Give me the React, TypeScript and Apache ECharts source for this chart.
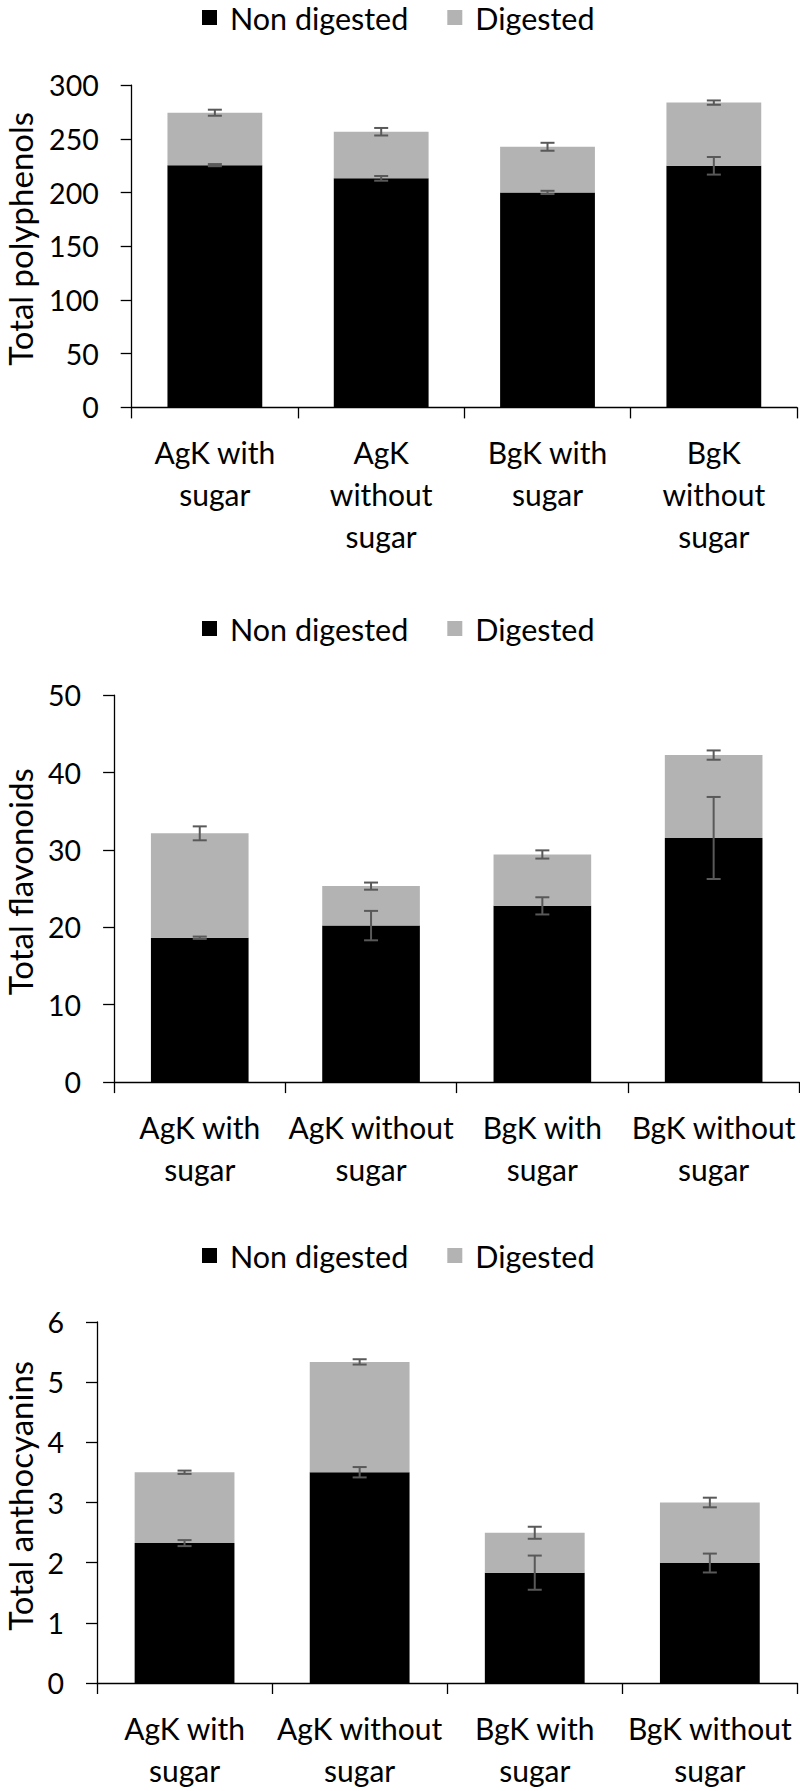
import React, { useEffect, useRef } from "react";
import * as echarts from "echarts";

// ---------- DATA ----------
const seriesNames = ["Non digested", "Digested"];

const categoriesPoly = ["AgK with\nsugar", "AgK\nwithout\nsugar", "BgK with\nsugar", "BgK\nwithout\nsugar"];
const categoriesFlav = ["AgK with\nsugar", "AgK without\nsugar", "BgK with\nsugar", "BgK without\nsugar"];
const categoriesAntho = ["AgK with\nsugar", "AgK without\nsugar", "BgK with\nsugar", "BgK without\nsugar"];

// Total polyphenols
const polyNonDigested = [225.5, 213.2, 200.1, 224.9];
const polyDigested = [48.8, 43.4, 42.5, 58.8];
const polyNonDigestedErr = [1.0, 2.2, 1.5, 8.2];
const polyTotalErr = [2.8, 3.5, 3.7, 2.0];

// Total flavonoids
const flavNonDigested = [18.65, 20.22, 22.77, 31.54];
const flavDigested = [13.49, 5.1, 6.64, 10.71];
const flavNonDigestedErr = [0.15, 1.9, 1.11, 5.3];
const flavTotalErr = [0.9, 0.46, 0.53, 0.6];

// Total anthocyanins
const anthoNonDigested = [2.325, 3.503, 1.834, 1.994];
const anthoDigested = [1.178, 1.834, 0.663, 1.006];
const anthoNonDigestedErr = [0.05, 0.086, 0.284, 0.157];
const anthoTotalErr = [0.027, 0.044, 0.1, 0.08];

// y axis scales
const polyAxis = { max: 300, interval: 50 };
const flavAxis = { max: 50, interval: 10 };
const anthoAxis = { max: 6, interval: 1 };

// ---------- STYLE ----------
const FONT = "Lato";
const BLACK = "#000000";
const GREY = "#B3B3B3";
const ERR = "#595959";

type Panel = {
  title: string;
  categories: string[];
  nd: number[];
  dig: number[];
  ndErr: number[];
  totErr: number[];
  axis: { max: number; interval: number };
  grid: { left: number; top: number; width: number; height: number };
  legendTop: number;
  titleY: number;
};

const panels: Panel[] = [
  {
    title: "Total polyphenols",
    categories: categoriesPoly,
    nd: polyNonDigested,
    dig: polyDigested,
    ndErr: polyNonDigestedErr,
    totErr: polyTotalErr,
    axis: polyAxis,
    grid: { left: 131.7, top: 85.1, width: 665.3, height: 322.3 },
    legendTop: 2,
    titleY: 238.8,
  },
  {
    title: "Total flavonoids",
    categories: categoriesFlav,
    nd: flavNonDigested,
    dig: flavDigested,
    ndErr: flavNonDigestedErr,
    totErr: flavTotalErr,
    axis: flavAxis,
    grid: { left: 114.1, top: 695.1, width: 685.2, height: 387 },
    legendTop: 613,
    titleY: 881.7,
  },
  {
    title: "Total anthocyanins",
    categories: categoriesAntho,
    nd: anthoNonDigested,
    dig: anthoDigested,
    ndErr: anthoNonDigestedErr,
    totErr: anthoTotalErr,
    axis: anthoAxis,
    grid: { left: 97, top: 1322, width: 700.4, height: 363.5 },
    legendTop: 1240,
    titleY: 1495.8,
  },
];

function errRender(params: any, api: any) {
  const x = api.value(0);
  const y = api.value(1);
  const e = api.value(2);
  const top = api.coord([x, y + e]);
  const bot = api.coord([x, y - e]);
  const hw = 7;
  const style = { stroke: ERR, lineWidth: 2 };
  return {
    type: "group",
    children: [
      { type: "line", shape: { x1: top[0], y1: top[1], x2: bot[0], y2: bot[1] }, style },
      { type: "line", shape: { x1: top[0] - hw, y1: top[1], x2: top[0] + hw, y2: top[1] }, style },
      { type: "line", shape: { x1: bot[0] - hw, y1: bot[1], x2: bot[0] + hw, y2: bot[1] }, style },
    ],
  };
}

function buildOption() {
  const grids: any[] = [];
  const xAxes: any[] = [];
  const yAxes: any[] = [];
  const legends: any[] = [];
  const series: any[] = [];
  const graphics: any[] = [];

  panels.forEach((p, i) => {
    grids.push({ ...p.grid, containLabel: false });
    xAxes.push({
      type: "category",
      gridIndex: i,
      data: p.categories,
      boundaryGap: true,
      axisLine: { show: true, lineStyle: { color: BLACK, width: 1.3 } },
      axisTick: { show: true, length: 11, lineStyle: { color: BLACK, width: 1.3 } },
      axisLabel: {
        interval: 0,
        margin: 24,
        fontFamily: FONT,
        fontSize: 30,
        lineHeight: 42,
        color: BLACK,
        align: "center",
      },
      splitLine: { show: false },
    });
    yAxes.push({
      type: "value",
      gridIndex: i,
      min: 0,
      max: p.axis.max,
      interval: p.axis.interval,
      axisLine: { show: true, lineStyle: { color: BLACK, width: 1.3 } },
      axisTick: { show: true, length: 11, lineStyle: { color: BLACK, width: 1.3 } },
      axisLabel: { margin: 33, fontFamily: FONT, fontSize: 28.5, color: BLACK },
      splitLine: { show: false },
    });
    legends.push({
      data: seriesNames,
      top: p.legendTop,
      left: 202,
      padding: 0,
      icon: "rect",
      itemWidth: 15,
      itemHeight: 15,
      itemGap: 39,
      textStyle: {
        fontFamily: FONT,
        fontSize: 30.5,
        lineHeight: 30,
        color: BLACK,
        padding: [0, 0, 0, 8],
      },
      selectedMode: false,
    });
    graphics.push({
      type: "text",
      x: 20,
      y: p.titleY,
      rotation: Math.PI / 2,
      style: {
        text: p.title,
        fontFamily: FONT,
        fontSize: 33,
        fill: BLACK,
        align: "center",
        verticalAlign: "middle",
      },
    });

    const totals = p.nd.map((v, k) => v + p.dig[k]);
    series.push({
      name: seriesNames[0],
      type: "bar",
      xAxisIndex: i,
      yAxisIndex: i,
      stack: "s" + i,
      barCategoryGap: "43%",
      itemStyle: { color: BLACK },
      data: p.nd,
    });
    series.push({
      name: seriesNames[1],
      type: "bar",
      xAxisIndex: i,
      yAxisIndex: i,
      stack: "s" + i,
      barCategoryGap: "43%",
      itemStyle: { color: GREY },
      data: p.dig,
    });
    series.push({
      type: "custom",
      xAxisIndex: i,
      yAxisIndex: i,
      renderItem: errRender,
      encode: { x: 0, y: 1 },
      z: 10,
      data: p.nd.map((v, k) => [k, v, p.ndErr[k]]),
    });
    series.push({
      type: "custom",
      xAxisIndex: i,
      yAxisIndex: i,
      renderItem: errRender,
      encode: { x: 0, y: 1 },
      z: 10,
      data: totals.map((v, k) => [k, v, p.totErr[k]]),
    });
  });

  return {
    animation: false,
    backgroundColor: "#ffffff",
    textStyle: { fontFamily: FONT },
    grid: grids,
    xAxis: xAxes,
    yAxis: yAxes,
    legend: legends,
    graphic: graphics,
    series,
  };
}

export default function App() {
  const ref = useRef<HTMLDivElement>(null);
  useEffect(() => {
    document.body.style.margin = "0";
    if (!ref.current) return;
    const chart = echarts.init(ref.current, undefined, { renderer: "svg" });
    chart.setOption(buildOption() as any);
    return () => chart.dispose();
  }, []);
  return <div ref={ref} style={{ width: 800, height: 1791 }} />;
}
